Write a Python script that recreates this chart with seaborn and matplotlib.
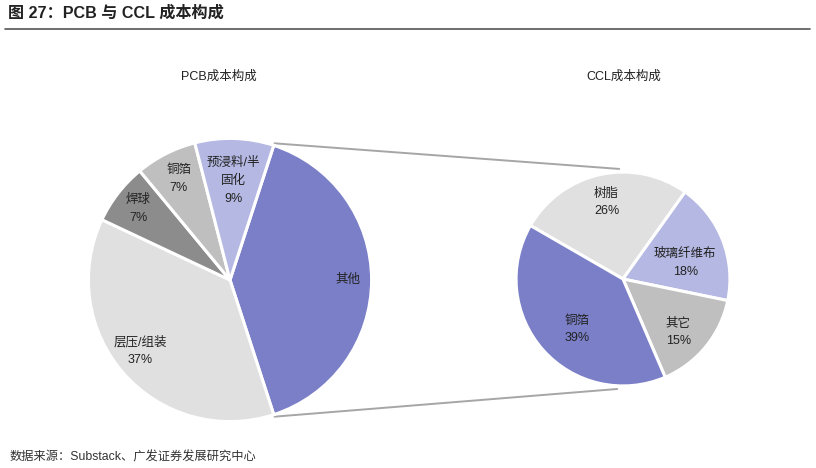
import numpy as np
import matplotlib
matplotlib.use("Agg")
import matplotlib.pyplot as plt
import seaborn as sns
from matplotlib.patches import ConnectionPatch
from matplotlib.lines import Line2D

sns.set_theme(style="white")
plt.rcParams['font.family'] = ['Liberation Sans', 'Noto Sans CJK SC', 'DejaVu Sans']

# Data
pcb_labels = ["其他", "层压/组装\n37%", "焊球\n7%", "铜箔\n7%", "预浸料/半\n固化\n9%"]
pcb_values = [40, 37, 7, 7, 9]
pcb_colors = ["#7B7FC8", "#E0E0E0", "#8C8C8C", "#BFBFBF", "#B4B8E2"]

ccl_labels = ["树脂\n26%", "玻璃纤维布\n18%", "其它\n15%", "铜箔\n39%"]
ccl_values = [26, 18, 15, 39]
ccl_colors = ["#E0E0E0", "#B4B8E2", "#BFBFBF", "#7B7FC8"]

# label layout (radius fraction, angular nudge in degrees)
pcb_label_r = [0.83, 0.81, 0.82, 0.80, 0.70]
pcb_label_da = [0, -3, 0, 0, 0]
ccl_label_r = [0.73, 0.60, 0.72, 0.64]
ccl_label_da = [0, -7, -5, 6]

W, H = 816, 468
fig = plt.figure(figsize=(W / 100, H / 100), dpi=100)


def px_axes(cx, cy, r):
    return fig.add_axes([(cx - r) / W, (H - cy - r) / H, 2 * r / W, 2 * r / H])


ax1 = px_axes(230, 280, 143)
ax2 = px_axes(623, 279, 108)

wedge_kw = dict(edgecolor="white", linewidth=2.2)
txt_kw = dict(fontsize=9, color="#222222", linespacing=1.6)


def draw_pie(ax, values, labels, colors, start, radii, nudges):
    wedges, _ = ax.pie(values, colors=colors, startangle=start, counterclock=False,
                       wedgeprops=wedge_kw)
    for w, lab, r, da in zip(wedges, labels, radii, nudges):
        ang = np.deg2rad((w.theta1 + w.theta2) / 2 + da)
        ax.text(r * np.cos(ang), r * np.sin(ang), lab, ha="center", va="center", **txt_kw)
    ax.set_xlim(-1.01, 1.01)
    ax.set_ylim(-1.01, 1.01)
    ax.set_aspect("equal")
    ax.axis("off")
    return wedges


w1 = draw_pie(ax1, pcb_values, pcb_labels, pcb_colors, 72, pcb_label_r, pcb_label_da)
w2 = draw_pie(ax2, ccl_values, ccl_labels, ccl_colors, 150, ccl_label_r, ccl_label_da)

fig.text(219 / W, 1 - 77 / H, "PCB成本构成", fontsize=9, color="#222222", ha="center", va="center")
fig.text(624 / W, 1 - 77 / H, "CCL成本构成", fontsize=9, color="#222222", ha="center", va="center")

# connection lines from the "其他" wedge edges to the CCL pie
a_top = np.deg2rad(w1[0].theta2)
a_bot = np.deg2rad(w1[0].theta1)
for a1, a2 in [(a_top, np.deg2rad(92)), (a_bot, np.deg2rad(267))]:
    con = ConnectionPatch(xyA=(1.015 * np.cos(a1), 1.015 * np.sin(a1)), coordsA=ax1.transData,
                          xyB=(1.03 * np.cos(a2), 1.03 * np.sin(a2)), coordsB=ax2.transData,
                          color="#A6A6A6", linewidth=1.4, zorder=0)
    fig.add_artist(con)

# header & footer
fig.text(8 / W, 1 - 13 / H, "图 27：PCB 与 CCL 成本构成", fontsize=11.6, fontweight="bold",
         color="#222222", ha="left", va="center")
fig.add_artist(Line2D([5 / W, 810 / W], [1 - 29 / H, 1 - 29 / H], color="#555555", linewidth=1.2))
fig.text(10 / W, 1 - 457 / H, "数据来源：Substack、广发证券发展研究中心", fontsize=8.8,
         color="#333333", ha="left", va="center")

fig.savefig("out.png", dpi=100)
